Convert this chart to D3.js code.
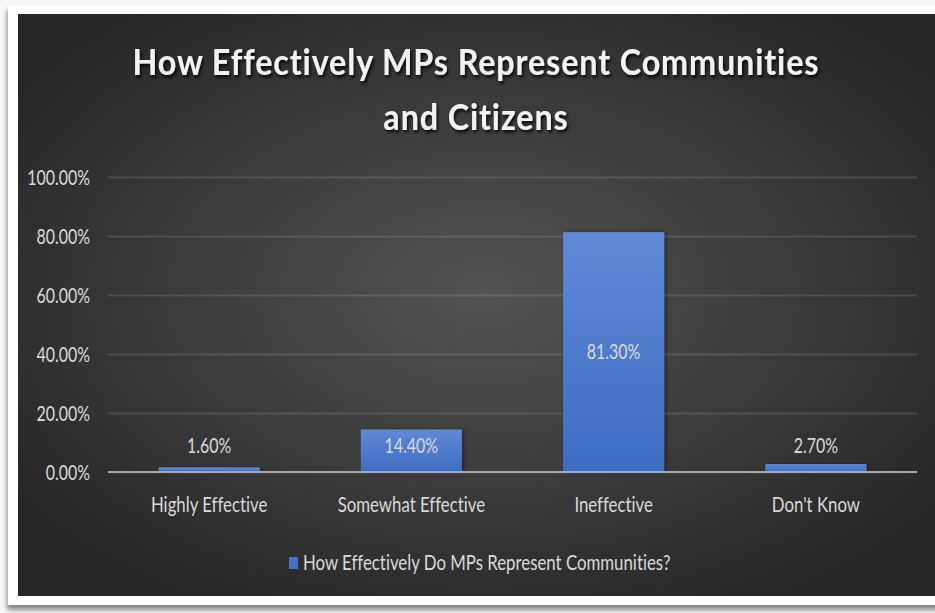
<!DOCTYPE html>
<html>
<head>
<meta charset="utf-8">
<script src="https://cdn.jsdelivr.net/npm/d3@7"></script>
<style>
  html, body { margin: 0; padding: 0; background: #f7f7f7; }
  svg { display: block; }
  text { font-family: Lato, "Open Sans", sans-serif; font-variant-ligatures: none; }
</style>
</head>
<body>
<svg id="chart" width="935" height="613"></svg>
<script>
// Survey results
const categories = ["Highly Effective", "Somewhat Effective", "Ineffective", "Don't Know"];
const values = [1.6, 14.4, 81.3, 2.7];
const yTicks = [0, 20, 40, 60, 80, 100];
const seriesName = "How Effectively Do MPs Represent Communities?";
const titleLines = ["How Effectively MPs Represent Communities", "and Citizens"];

const svg = d3.select("#chart");
const defs = svg.append("defs");

// background radial gradient (dark edges, lighter centre)
const bg = defs.append("radialGradient").attr("id", "bgGrad")
  .attr("cx", "50%").attr("cy", "48%").attr("r", "62%");
bg.append("stop").attr("offset", "0%").attr("stop-color", "#535353");
bg.append("stop").attr("offset", "100%").attr("stop-color", "#262626");

// bar fill gradient
const bar = defs.append("linearGradient").attr("id", "barGrad")
  .attr("x1", 0).attr("y1", 0).attr("x2", 0).attr("y2", 1);
bar.append("stop").attr("offset", "0%").attr("stop-color", "#6089d6");
bar.append("stop").attr("offset", "100%").attr("stop-color", "#3e6cc3");

// frame shadow
const fs = defs.append("filter").attr("id", "frameShadow")
  .attr("x", "-5%").attr("y", "-5%").attr("width", "110%").attr("height", "115%");
fs.append("feDropShadow").attr("dx", -1).attr("dy", 5).attr("stdDeviation", 2.5)
  .attr("flood-color", "#000").attr("flood-opacity", 0.45);

// title text shadow
const ts = defs.append("filter").attr("id", "titleShadow")
  .attr("x", "-5%").attr("y", "-20%").attr("width", "110%").attr("height", "150%");
ts.append("feDropShadow").attr("dx", 1.5).attr("dy", 2.5).attr("stdDeviation", 1.6)
  .attr("flood-color", "#000").attr("flood-opacity", 0.85);

// bar shadow
const bs = defs.append("filter").attr("id", "barShadow")
  .attr("x", "-10%").attr("y", "-10%").attr("width", "125%").attr("height", "120%");
bs.append("feDropShadow").attr("dx", 2).attr("dy", 0).attr("stdDeviation", 2)
  .attr("flood-color", "#000").attr("flood-opacity", 0.4);

// frame + panel
svg.append("rect").attr("x", 8).attr("y", 5).attr("width", 940).attr("height", 600)
  .attr("fill", "#ffffff").attr("filter", "url(#frameShadow)");
svg.append("rect").attr("x", 18).attr("y", 14).attr("width", 930).attr("height", 582)
  .attr("fill", "url(#bgGrad)");

// condense text horizontally to a Calibri-like width
function condense(sel, k) {
  sel.each(function () {
    const w = this.getComputedTextLength();
    d3.select(this).attr("textLength", w * k).attr("lengthAdjust", "spacingAndGlyphs");
  });
}

const x = d3.scaleBand().domain(categories).range([108, 917])
  .paddingInner(0.5).paddingOuter(0.25);
const y = d3.scaleLinear().domain([0, 100]).range([472, 177]);

// gridlines
const grid = svg.append("g").attr("transform", "translate(108,0)")
  .call(d3.axisLeft(y).tickValues(yTicks).tickSize(-809).tickFormat(""));
grid.select(".domain").remove();
grid.selectAll(".tick line").attr("stroke", "#ffffff").attr("stroke-opacity", 0.12)
  .attr("stroke-width", 2);

// y axis labels
const yAxis = svg.append("g").attr("transform", "translate(108,0)")
  .call(d3.axisLeft(y).tickValues(yTicks).tickSize(0).tickPadding(18)
    .tickFormat(d => d.toFixed(2) + "%"));
yAxis.select(".domain").remove();
yAxis.selectAll("text").attr("fill", "#d9d9d9").attr("font-size", 21)
  .attr("font-family", "Lato, sans-serif").attr("dy", "0.36em")
  .call(condense, 0.76);

// bars
svg.append("g").selectAll("rect").data(values).join("rect")
  .attr("x", (d, i) => x(categories[i]))
  .attr("width", x.bandwidth())
  .attr("y", d => y(d))
  .attr("height", d => y(0) - y(d))
  .attr("fill", "url(#barGrad)")
  .attr("filter", "url(#barShadow)");

// zero line
svg.append("line").attr("x1", 108).attr("x2", 917).attr("y1", y(0)).attr("y2", y(0))
  .attr("stroke", "#a6a6a6").attr("stroke-width", 2);

// x axis labels
const xAxis = svg.append("g").attr("transform", `translate(0,${y(0)})`)
  .call(d3.axisBottom(x).tickSize(0).tickPadding(25));
xAxis.select(".domain").remove();
xAxis.selectAll("text").attr("fill", "#d9d9d9").attr("font-size", 21)
  .attr("font-family", "Lato, sans-serif")
  .call(condense, 0.8);

// data labels
svg.append("g").selectAll("text").data(values).join("text")
  .attr("x", (d, i) => x(categories[i]) + x.bandwidth() / 2)
  .attr("y", d => Math.min(y(d / 2), y(0) - 26))
  .attr("dy", "0.35em")
  .attr("text-anchor", "middle")
  .attr("fill", "#d9d9d9").attr("font-size", 21)
  .text(d => d.toFixed(2) + "%")
  .call(condense, 0.76);

// title
svg.append("g").selectAll("text").data(titleLines).join("text")
  .attr("x", 476)
  .attr("y", (d, i) => 75 + i * 55)
  .attr("text-anchor", "middle")
  .attr("fill", "#f2f2f2").attr("font-size", 37).attr("font-weight", 700)
  .attr("letter-spacing", 1)
  .attr("filter", "url(#titleShadow)")
  .text(d => d)
  .call(condense, 0.873);

// legend
const legend = svg.append("g");
legend.append("rect").attr("x", 289).attr("y", 557).attr("width", 9).attr("height", 12)
  .attr("fill", "#4472c4");
legend.append("text").attr("x", 303).attr("y", 563).attr("dy", "0.35em")
  .attr("fill", "#d9d9d9").attr("font-size", 21)
  .text(seriesName)
  .call(condense, 0.8);
</script>
</body>
</html>
